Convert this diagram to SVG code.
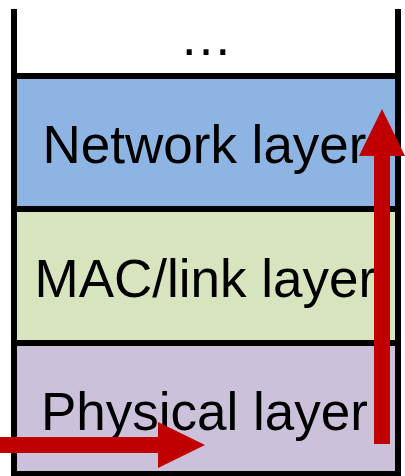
<svg xmlns="http://www.w3.org/2000/svg" width="405" height="476" viewBox="0 0 405 476">
  <style>
    .wall { stroke: #000; stroke-width: 6; fill: none; }
    .layer { stroke: #000; stroke-width: 6; }
    .label { font-family: "Liberation Sans", Arial, sans-serif; font-size: 53px; fill: #000; }
    .arrow { fill: #C00000; }
  </style>
  <rect width="405" height="476" fill="#fff"/>

  <!-- open top of the stack -->
  <g id="upper">
    <line class="wall" x1="14" y1="9" x2="14" y2="76"/>
    <line class="wall" x1="398" y1="9" x2="398" y2="76"/>
    <text class="label" x="206" y="55" text-anchor="middle">…</text>
  </g>

  <g id="network">
    <rect class="layer" x="14" y="76" width="384" height="133" fill="#8EB4E3"/>
    <text class="label" x="42.5" y="163">Network layer</text>
  </g>

  <g id="mac">
    <rect class="layer" x="14" y="209" width="384" height="134" fill="#D7E4BD"/>
    <text class="label" x="34.5" y="297">MAC/link layer</text>
  </g>

  <g id="physical">
    <rect class="layer" x="14" y="343" width="384" height="131" fill="#CCC1DA"/>
    <text class="label" x="41" y="429.5">Physical layer</text>
  </g>

  <g id="connectors">
    <!-- incoming signal into the physical layer -->
    <polygon class="arrow" points="0,437 158,437 158,422 205,445 158,468 158,453 0,453"/>
    <!-- passed up to the network layer -->
    <polygon class="arrow" points="374,444 374,156 359,156 382,109 405,156 390,156 390,444"/>
  </g>
</svg>
